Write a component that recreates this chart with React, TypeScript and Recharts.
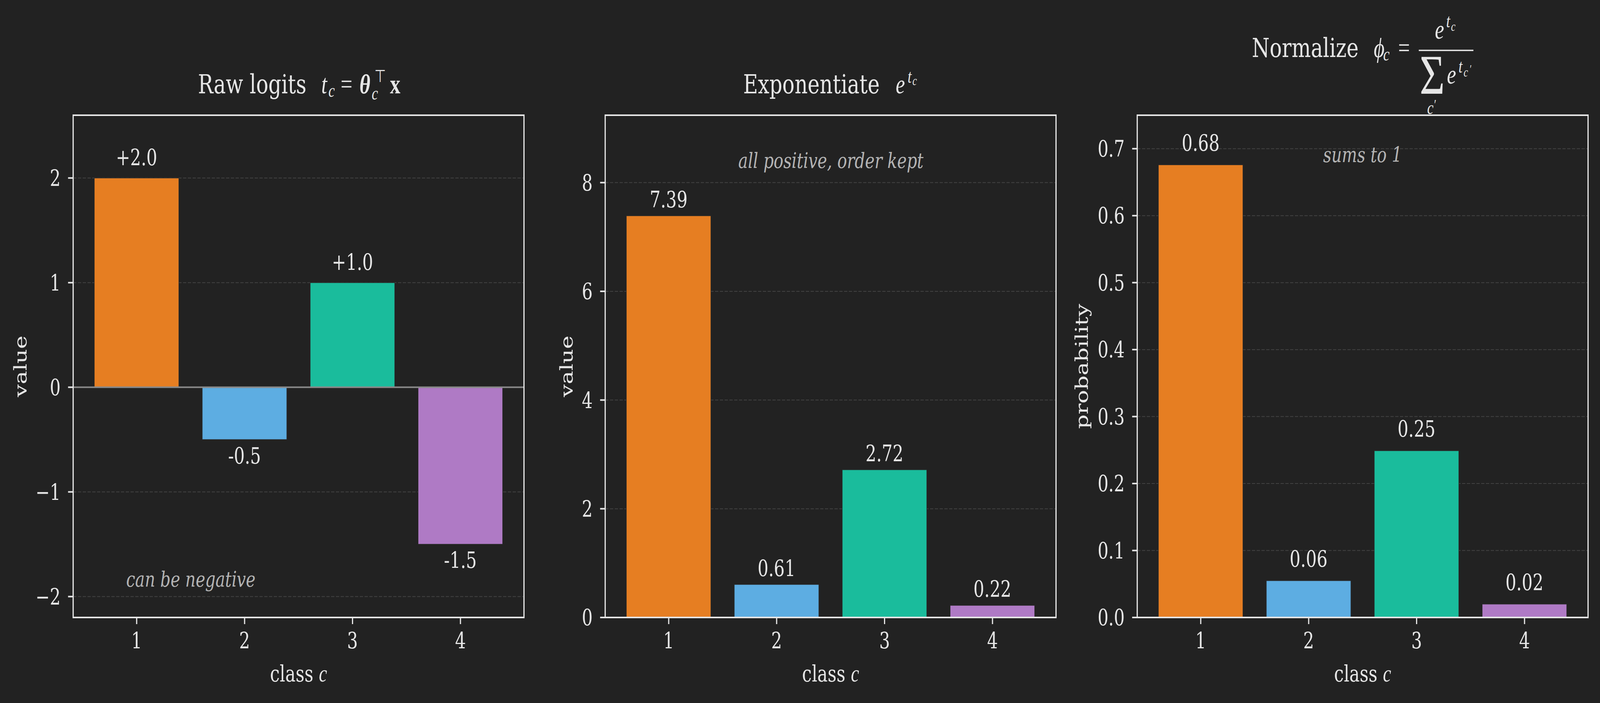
import React from "react"
import { BarChart, Bar, XAxis, YAxis, CartesianGrid, Cell, LabelList, ReferenceLine } from "recharts"

// data
const classes = ["1", "2", "3", "4"]
const classColors = ["#E67E22", "#5DADE2", "#1ABC9C", "#AF7AC5"]
const logits = [2.0, -0.5, 1.0, -1.5]
const expLogits = [7.389, 0.607, 2.718, 0.223]
const probs = [0.676, 0.055, 0.249, 0.02]
const logitTicks = [-2, -1, 0, 1, 2]
const expTicks = [0, 2, 4, 6, 8]
const probTicks = [0, 0.1, 0.2, 0.3, 0.4, 0.5, 0.6, 0.7]

const BG = "#222222"
const FG = "#e6e6e6"
const NOTE = "#b4b4b4"
const SERIF = "'DejaVu Serif', serif"
const MATH = "'Liberation Serif', 'DejaVu Serif', serif"

const FIG_W = 5359
const FIG_H = 1800
const PLOT_TOP = 295
const PLOT_W = 1510
const PLOT_H = 1286
const YAXIS_W = 200
const XAXIS_H = 100

interface PanelProps {
  plotLeft: number
  values: number[]
  domain: [number, number]
  ticks: number[]
  tickFmt: (v: number) => string
  labelFmt: (v: number) => string
  gapAbove: number
  gapBelow: number
  zeroLine?: boolean
}

function Panel({ plotLeft, values, domain, ticks, tickFmt, labelFmt, gapAbove, gapBelow, zeroLine }: PanelProps) {
  const data = classes.map((name, i) => ({ name, value: values[i] }))

  const renderLabel = (props: any) => {
    const vb = props.viewBox ?? props
    const x = Number(vb.x ?? props.x)
    const y = Number(vb.y ?? props.y)
    const w = Number(vb.width ?? props.width)
    const h = Number(vb.height ?? props.height)
    const v = Number(props.value)
    const top = Math.min(y, y + h)
    const bottom = Math.max(y, y + h)
    const ty = v >= 0 ? top - gapAbove : bottom + gapBelow
    return (
      <text x={x + w / 2} y={ty} textAnchor="middle" fill={FG} fontSize={57} fontFamily={SERIF}>
        {labelFmt(v)}
      </text>
    )
  }

  return (
    <>
      <div style={{ position: "absolute", left: plotLeft - YAXIS_W, top: 0 }}>
        <BarChart
          width={YAXIS_W + PLOT_W + 10}
          height={FIG_H}
          data={data}
          margin={{ top: PLOT_TOP, right: 10, bottom: FIG_H - PLOT_TOP - PLOT_H - XAXIS_H, left: 0 }}
        >
          <XAxis
            dataKey="name"
            interval={0}
            height={XAXIS_H}
            padding={{ left: 32, right: 32 }}
            axisLine={false}
            tickSize={17}
            tickMargin={22}
            tickLine={{ stroke: FG, strokeWidth: 4 }}
            tick={{ fill: FG, fontSize: 57, fontFamily: SERIF }}
          />
          <YAxis
            type="number"
            domain={domain}
            ticks={ticks}
            allowDataOverflow
            interval={0}
            width={YAXIS_W}
            axisLine={false}
            tickSize={17}
            tickMargin={25}
            tickFormatter={tickFmt}
            tickLine={{ stroke: FG, strokeWidth: 4 }}
            tick={{ fill: FG, fontSize: 57, fontFamily: SERIF }}
          />
          <Bar dataKey="value" barSize={283} isAnimationActive={false} stroke="#2a2a2a" strokeWidth={1.5}>
            {data.map((_, i) => (
              <Cell key={i} fill={classColors[i]} />
            ))}
            <LabelList dataKey="value" content={renderLabel} />
          </Bar>
          <CartesianGrid vertical={false} stroke="#6a6a6a" strokeOpacity={0.45} strokeDasharray="11 5" strokeWidth={2} />
          {zeroLine && <ReferenceLine y={0} stroke="#8a8a8a" strokeWidth={4} />}
        </BarChart>
      </div>
      <div
        style={{
          position: "absolute",
          left: plotLeft - 2,
          top: PLOT_TOP - 2,
          width: PLOT_W + 4,
          height: PLOT_H + 4,
          border: `4px solid ${FG}`,
          boxSizing: "border-box",
        }}
      />
    </>
  )
}

const signed = (v: number) => (v > 0 ? `+${v.toFixed(1)}` : v.toFixed(1))
const minus = (v: number) => (v < 0 ? `\u2212${Math.abs(v)}` : `${v}`)

function Overlay() {
  const t = { fill: FG, fontFamily: SERIF }
  const m = { fill: FG, fontFamily: MATH, fontStyle: "italic" as const }
  return (
    <svg width={FIG_W} height={FIG_H} style={{ position: "absolute", left: 0, top: 0, pointerEvents: "none" }}>
      {/* panel 1 title */}
      <text x={663} y={239} fontSize={68} {...t}>Raw logits</text>
      <text x={1076} y={239} fontSize={70} {...m}>t</text>
      <text x={1100} y={248} fontSize={48} {...m}>c</text>
      <text x={1141} y={239} fontSize={70} fill={FG} fontFamily={MATH}>=</text>
      <text x={1204} y={239} fontSize={70} {...m} fontWeight="bold">θ</text>
      <text x={1245} y={255} fontSize={48} {...m}>c</text>
      <text x={1254} y={210} fontSize={44} fill={FG} fontFamily="'DejaVu Sans', sans-serif">⊤</text>
      <text x={1306} y={239} fontSize={70} fill={FG} fontFamily={MATH} fontWeight="bold">x</text>

      {/* panel 2 title */}
      <text x={2489} y={239} fontSize={68} {...t}>Exponentiate</text>
      <text x={3000} y={239} fontSize={70} {...m}>e</text>
      <text x={3040} y={212} fontSize={48} {...m}>t</text>
      <text x={3056} y={218} fontSize={34} {...m}>c</text>

      {/* panel 3 title */}
      <text x={4193} y={146} fontSize={68} {...t}>Normalize</text>
      <text x={4601} y={146} fontSize={70} {...m}>ϕ</text>
      <text x={4633} y={155} fontSize={48} {...m}>c</text>
      <text x={4683} y={146} fontSize={70} fill={FG} fontFamily={MATH}>=</text>
      <text x={4806} y={99} fontSize={70} {...m}>e</text>
      <text x={4844} y={70} fontSize={48} {...m}>t</text>
      <text x={4860} y={79} fontSize={34} {...m}>c</text>
      <line x1={4752} x2={4935} y1={129} y2={129} stroke={FG} strokeWidth={3.5} />
      <text x={4755} y={240} fontSize={145} fill={FG} fontFamily={MATH}>Σ</text>
      <text x={4846} y={214} fontSize={70} {...m}>e</text>
      <text x={4885} y={186} fontSize={48} {...m}>t</text>
      <text x={4902} y={196} fontSize={34} {...m}>c</text>
      <text x={4921} y={186} fontSize={30} {...m}>′</text>
      <text x={4780} y={292} fontSize={48} {...m}>c</text>
      <text x={4801} y={280} fontSize={36} {...m}>′</text>

      {/* axis labels */}
      {[245, 2027, 3809].map((pl) => (
        <text key={pl} x={pl + PLOT_W / 2} y={1745} textAnchor="middle" fontSize={58} {...t}>
          class <tspan fontFamily={MATH} fontStyle="italic" fontSize={62}>c</tspan>
        </text>
      ))}
      <text transform="translate(89,938) rotate(-90)" textAnchor="middle" fontSize={58} {...t}>value</text>
      <text transform="translate(1918,938) rotate(-90)" textAnchor="middle" fontSize={58} {...t}>value</text>
      <text transform="translate(3644,938) rotate(-90)" textAnchor="middle" fontSize={58} {...t}>probability</text>

      {/* annotations */}
      <text x={639} y={1502} textAnchor="middle" fontSize={54} fill={NOTE} fontFamily={SERIF} fontStyle="italic">can be negative</text>
      <text x={2783} y={430} textAnchor="middle" fontSize={54} fill={NOTE} fontFamily={SERIF} fontStyle="italic">all positive, order kept</text>
      <text x={4564} y={415} textAnchor="middle" fontSize={54} fill={NOTE} fontFamily={SERIF} fontStyle="italic">sums to 1</text>
    </svg>
  )
}

export default function App() {
  // the browser window can come out narrower than the figure; squeeze to fit it
  const vw = typeof window !== "undefined" ? window.innerWidth : FIG_W
  const vh = typeof window !== "undefined" ? window.innerHeight : FIG_H
  const sx = Math.min(1, vw / FIG_W)
  const sy = Math.min(1, vh / FIG_H)

  return (
    <div style={{ width: FIG_W * sx, height: FIG_H * sy, overflow: "hidden", background: BG }}>
      <style>{`body{margin:0;background:${BG};overflow:hidden}`}</style>
      <div
        style={{
          position: "relative",
          width: FIG_W,
          height: FIG_H,
          background: BG,
          transform: `scale(${sx}, ${sy})`,
          transformOrigin: "0 0",
        }}
      >
        <Panel
          plotLeft={245}
          values={logits}
          domain={[-2.2, 2.6]}
          ticks={logitTicks}
          tickFmt={minus}
          labelFmt={signed}
          gapAbove={33}
          gapBelow={61}
          zeroLine
        />
        <Panel
          plotLeft={2027}
          values={expLogits}
          domain={[0, 9.24]}
          ticks={expTicks}
          tickFmt={(v) => `${v}`}
          labelFmt={(v) => v.toFixed(2)}
          gapAbove={22}
          gapBelow={0}
        />
        <Panel
          plotLeft={3809}
          values={probs}
          domain={[0, 0.75]}
          ticks={probTicks}
          tickFmt={(v) => v.toFixed(1)}
          labelFmt={(v) => v.toFixed(2)}
          gapAbove={36}
          gapBelow={0}
        />
        <Overlay />
      </div>
    </div>
  )
}
